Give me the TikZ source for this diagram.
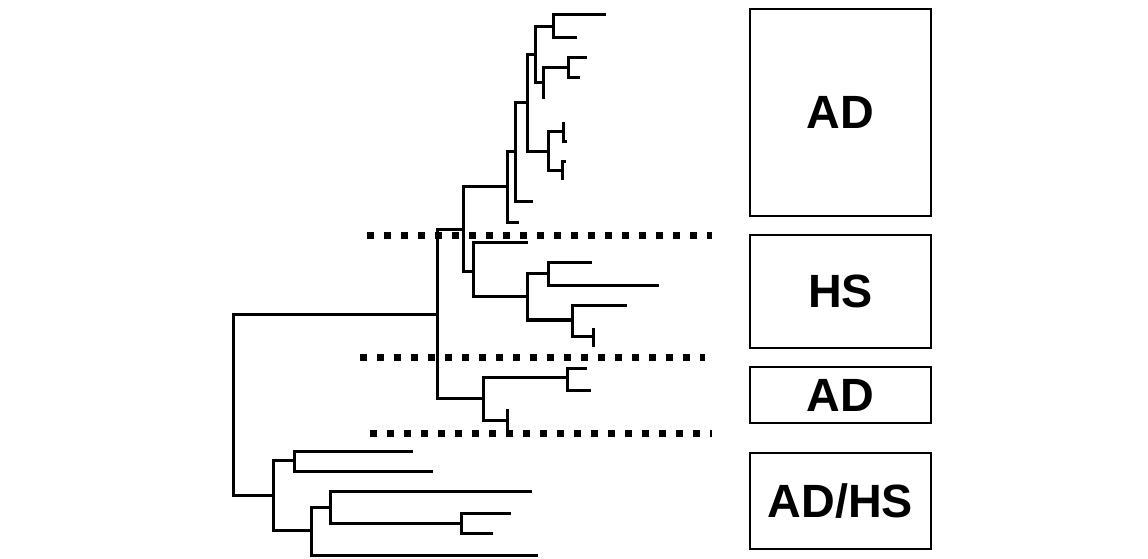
\documentclass[tikz,border=0pt]{standalone}
\usepackage{fontspec}
\setmainfont{Liberation Sans}

\begin{document}
\begin{tikzpicture}[x=0.75pt, y=-0.75pt, line width=2.25pt]
\tikzset{clade/.style={draw, line width=1.5pt, inner sep=0pt, minimum width=181*0.75pt, font=\fontsize{35}{40}\selectfont\bfseries}, sep/.style={line width=5.25pt, dash pattern=on 5.25pt off 7.5pt}}
\useasboundingbox (0,0) rectangle (1148,559);
% tree: inner nodes (capitals) and leaf tips
\coordinate (r) at (233,405);
\coordinate (A) at (437,315); \coordinate (G) at (273,495);
\coordinate (B) at (463,230); \coordinate (E) at (483,398);
\coordinate (C) at (507,187); \coordinate (D) at (473,272);
\coordinate (C1) at (515,152); \coordinate (c0) at (519,223);
\coordinate (C2) at (527,103); \coordinate (c1) at (533,202);
\coordinate (C3) at (535,55); \coordinate (C4) at (548,152);
\coordinate (C5) at (553,27); \coordinate (C6) at (543,83);
\coordinate (a1) at (606,15); \coordinate (a2) at (577,38);
\coordinate (C7) at (568,68); \coordinate (a3) at (543,99);
\coordinate (a4) at (587,58); \coordinate (a5) at (580,78);
\coordinate (C8) at (563,132); \coordinate (C9) at (562,171);
\coordinate (a6) at (563,122); \coordinate (a7) at (567,142);
\coordinate (a8) at (566,162); \coordinate (a9) at (562,180);
\coordinate (d1) at (528,243); \coordinate (D1) at (527,297);
\coordinate (D2) at (548,274); \coordinate (D3) at (572,320);
\coordinate (d2) at (592,263); \coordinate (d3) at (659,286);
\coordinate (d4) at (627,306); \coordinate (D4) at (593,336);
\coordinate (d5) at (593,328); \coordinate (d6) at (593,347);
\coordinate (E1) at (567,377); \coordinate (E2) at (507,420);
\coordinate (e1) at (587,368); \coordinate (e2) at (591,390);
\coordinate (e3) at (507,409); \coordinate (e4) at (507,432);
\coordinate (G1) at (294,460); \coordinate (G2) at (311,530);
\coordinate (g1) at (413,451); \coordinate (g2) at (433,471);
\coordinate (G3) at (330,507); \coordinate (g3) at (538,555);
\coordinate (g4) at (532,491); \coordinate (G4) at (461,523);
\coordinate (g5) at (511,513); \coordinate (g6) at (493,533);
\foreach \p/\c in {r/A, r/G, A/B, A/E, B/C, B/D, C/C1, C/c0, C1/C2, C1/c1, C2/C3, C2/C4, C3/C5, C3/C6, C5/a1, C5/a2, C6/C7, C6/a3, C7/a4, C7/a5, C4/C8, C4/C9, C8/a6, C8/a7, C9/a8, C9/a9, D/d1, D/D1, D1/D2, D1/D3, D2/d2, D2/d3, D3/d4, D3/D4, D4/d5, D4/d6, E/E1, E/E2, E1/e1, E1/e2, E2/e3, E2/e4, G/G1, G/G2, G1/g1, G1/g2, G2/G3, G2/g3, G3/g4, G3/G4, G4/g5, G4/g6}
  \draw (\p) |- (\c);
% group separators
\draw[sep] (367,236) -- (712,236);
\draw[sep] (360,357) -- (705,357);
\draw[sep] (370,433) -- (712,433);
% group labels
\node[clade, minimum height=207*0.75pt] (ad1) at (840.5,112.5) {AD};
\node[clade, minimum height=113*0.75pt] (hs) at (840.5,291.5) {HS};
\node[clade, minimum height=56*0.75pt] (ad2) at (840.5,395) {AD};
\node[clade, minimum height=96*0.75pt] (adhs) at (840.5,501) {AD/HS};
\end{tikzpicture}
\end{document}
